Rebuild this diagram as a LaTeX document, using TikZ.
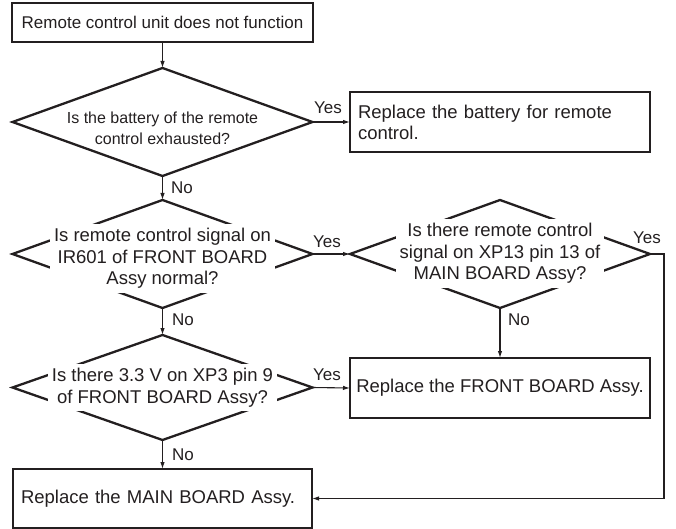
\documentclass[tikz,border=0pt]{standalone}
\usepackage{fontspec}
\setmainfont{Liberation Sans}
\usetikzlibrary{shapes.geometric,arrows.meta}
\definecolor{ink}{HTML}{231F20}
\begin{document}
\begin{tikzpicture}[x=1pt,y=-1pt,
  every node/.style={text=ink},
  box/.style={draw=ink, line width=2.6pt, rectangle, inner sep=0pt, outer sep=0pt},
  dia/.style={draw=ink, line width=2.3pt, diamond, inner sep=0pt, outer sep=0pt, minimum width=300pt, minimum height=108pt},
  qtext/.style={fill=white, align=center, inner xsep=4pt, inner ysep=4pt, font=\fontsize{18.5}{21.5}\selectfont},
  big/.style={font=\fontsize{18.5}{21}\selectfont},
  lbl/.style={font=\fontsize{17}{20}\selectfont, inner sep=0pt},
  arr/.style={draw=ink, line width=1.1pt, -{Latex[length=7pt,width=4.5pt]}},
]
\useasboundingbox (0,0) rectangle (676,529);

\node[box, minimum width=301pt, minimum height=39pt, font=\fontsize{17}{20}\selectfont] (start) at (162.5,22.5) {Remote control unit does not function};

\node[dia] (d1) at (162.5,122) {};
\node[font=\fontsize{16}{21}\selectfont, align=center] (t1) at (162.5,128.5) {Is the battery of the remote\\control exhausted?};

\node[box, big, text width=284pt, inner xsep=8pt, minimum height=60pt, align=left] (bat) at (500,122) {Replace the battery for remote\\control.};

\node[dia] (d2) at (162.5,254) {};
\node[qtext] (t2) at (162.5,258.5) {Is remote control signal on\\IR601 of FRONT BOARD\\Assy normal?};

\node[dia] (d3) at (500,254) {};
\node[qtext] (t3) at (500,253.5) {Is there remote control\\signal on XP13 pin 13 of\\MAIN BOARD Assy?};

\node[dia, minimum height=105pt] (d4) at (162.5,387.5) {};
\node[qtext] (t4) at (162.5,387.5) {Is there 3.3 V on XP3 pin 9\\of FRONT BOARD Assy?};

\node[box, big, minimum width=300pt, minimum height=60pt] (front) at (500,388) {Replace the FRONT BOARD Assy.};

\node[box, big, text width=283pt, inner xsep=8pt, minimum height=59pt, align=left] (main) at (162.5,498.5) {Replace the MAIN BOARD Assy.};

\draw[arr] (start.south) -- (d1.north);
\draw[arr] (d1.east) -- (bat.west);
\draw[arr] (d1.south) -- (d2.north);
\draw[arr] (d2.east) -- (d3.west);
\draw[arr] (d2.south) -- (d4.north);
\draw[arr] (d3.south) -- (front.north);
\draw[arr] (d4.east) -- (front.west);
\draw[arr] (d4.south) -- (main.north);
\coordinate (c1) at (664,254);
\coordinate (c2) at (664,498.5);
\draw[arr] (d3.east) -- (c1) -- (c2) -- (main.east);

\node[lbl] (y1) at (328,108) {Yes};
\node[lbl] (y2) at (327,242) {Yes};
\node[lbl] (y3) at (647,238) {Yes};
\node[lbl] (y4) at (327,375) {Yes};
\node[lbl] (n1) at (182,188) {No};
\node[lbl] (n2) at (183,320) {No};
\node[lbl] (n3) at (519,320) {No};
\node[lbl] (n4) at (183,455) {No};
\end{tikzpicture}
\end{document}
